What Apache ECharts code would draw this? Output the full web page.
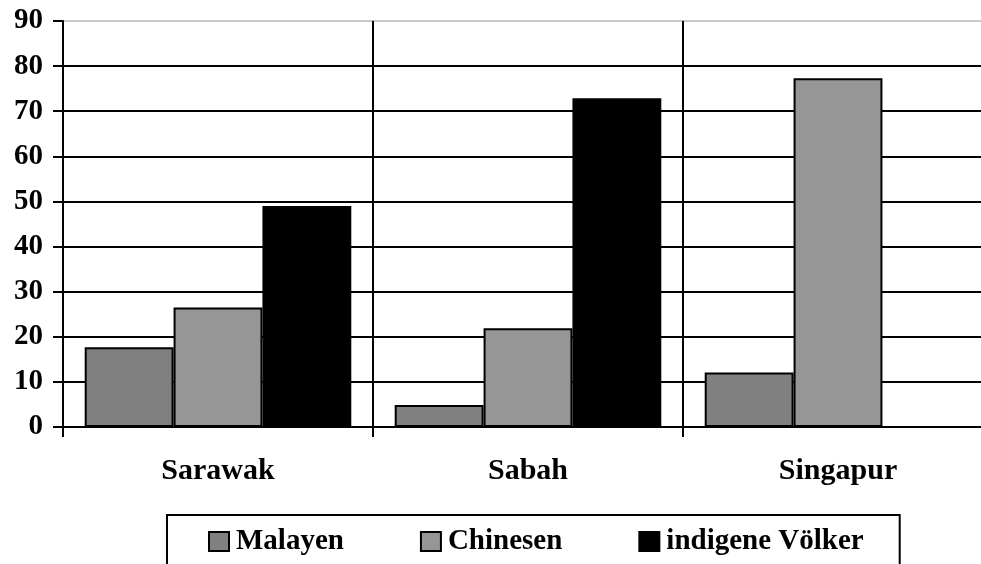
<!DOCTYPE html>
<html>
<head>
<meta charset="utf-8">
<script src="https://cdn.jsdelivr.net/npm/echarts@6/dist/echarts.min.js"></script>
<style>
html,body{margin:0;padding:0;background:#fff;overflow:hidden;width:981px;height:564px;}
#c{width:993px;height:564px;}
</style>
</head>
<body>
<div id="c"></div>
<script>
const categories = ['Sarawak', 'Sabah', 'Singapur'];
const seriesNames = ['Malayen', 'Chinesen', 'indigene Völker'];
const malayen = [17.7, 4.9, 12.1];
const chinesen = [26.5, 21.9, 77.3];
const indigene = [49.0, 72.9, null];
const yTicks = [0, 10, 20, 30, 40, 50, 60, 70, 80, 90];

const FONT = '"Liberation Serif", "Times New Roman", serif';
const colors = ['#808080', '#969696', '#000000'];
const seriesData = [malayen, chinesen, indigene];

const chart = echarts.init(document.getElementById('c'), null, {renderer: 'canvas'});
chart.setOption({
  animation: false,
  backgroundColor: '#fff',
  grid: {left: 63, top: 21, bottom: 137, right: 0, containLabel: false},
  legend: {
    data: seriesNames,
    left: 167,
    top: 515,
    orient: 'horizontal',
    icon: 'rect',
    itemWidth: 20,
    itemHeight: 19,
    itemGap: 76,
    padding: [12, 36, 24, 41],
    borderColor: '#000',
    borderWidth: 2,
    textStyle: {fontFamily: FONT, fontWeight: 'bold', fontSize: 29, color: '#000', padding: [0, 0, 0, 2]}
  },
  xAxis: {
    type: 'category',
    data: categories,
    boundaryGap: true,
    axisLine: {show: true, lineStyle: {color: '#000', width: 2}},
    axisTick: {show: true, length: 10, inside: false, lineStyle: {color: '#000', width: 2}},
    splitLine: {show: true, lineStyle: {color: '#000', width: 2}},
    axisLabel: {fontFamily: FONT, fontWeight: 'bold', fontSize: 30, color: '#000', margin: 29}
  },
  yAxis: {
    type: 'value',
    min: 0,
    max: 90,
    interval: 10,
    axisLine: {show: true, lineStyle: {color: '#000', width: 2}},
    axisTick: {show: true, length: 10, lineStyle: {color: '#000', width: 2}},
    splitLine: {show: true, lineStyle: {color: ['#000','#000','#000','#000','#000','#000','#000','#000','#000','#c8c8c8'], width: 2}},
    axisLabel: {fontFamily: FONT, fontWeight: 'bold', fontSize: 29, color: '#000', margin: 20,
      formatter: function (v) { return yTicks.indexOf(v) >= 0 ? String(v) : ''; }}
  },
  series: seriesNames.map(function (name, i) {
    return {
      name: name,
      type: 'bar',
      data: seriesData[i],
      barGap: '0%',
      barCategoryGap: '14%',
      itemStyle: {color: colors[i], borderColor: '#000', borderWidth: 2}
    };
  })
});
</script>
</body>
</html>
